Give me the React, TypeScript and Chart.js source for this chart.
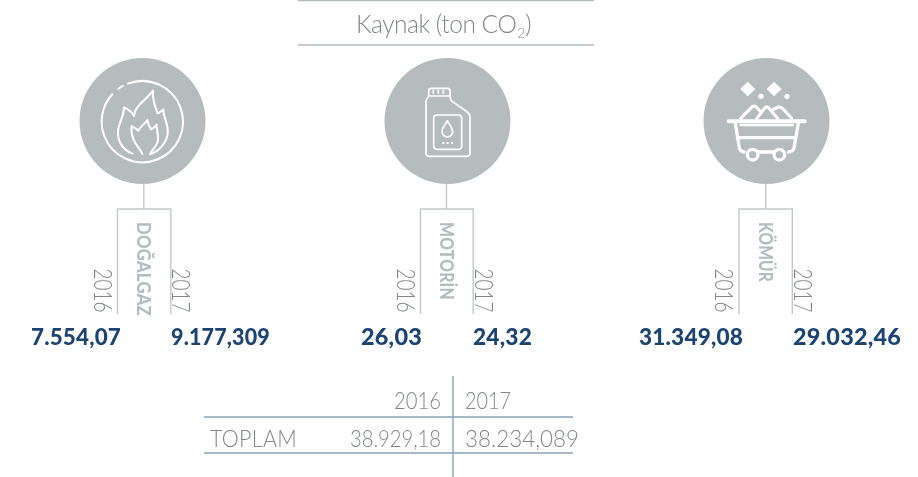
import React, { useEffect, useRef } from "react";
import { Chart, registerables } from "chart.js";

Chart.register(...registerables);

// ---------- data ----------
const sources = ["DOĞALGAZ", "MOTORİN", "KÖMÜR"];
const values2016 = ["7.554,07", "26,03", "31.349,08"];
const values2017 = ["9.177,309", "24,32", "29.032,46"];
const years = ["2016", "2017"];
const totalLabel = "TOPLAM";
const totals = ["38.929,18", "38.234,089"];
const titleMain = "Kaynak (ton CO";
const titleSub = "2";
const titleEnd = ")";

// ---------- layout (separate from data) ----------
const W = 918;
const H = 477;
const GREY = "#b5bcbd";
const LINE = "#c3c9ca";
const NAVY = "#1b4470";
const TEXT = "#838788";
const BLUE = "#86a3ba";
const CX = [142.5, 447.5, 766.5];
const STEM = [143.8, 446.5, 765.8];
const LEFT = [117.5, 420.5, 739];
const RIGHT = [170.8, 473.2, 792.3];
const CY = 121;
const R = 63;
const V16_RIGHT = [121, 422, 743];
const V17_LEFT = [171, 473, 793];
const V16_W = [90, 61, 104];
const V17_W = [99, 59, 108];
const NAME_W = [94, 78, 60];

type P = { x: number; y: number };
const segs: { pts: P[]; color: string; w: number }[] = [];
const seg = (color: string, w: number, ...c: number[]) => {
  const pts: P[] = [];
  for (let i = 0; i < c.length; i += 2) pts.push({ x: c[i], y: c[i + 1] });
  segs.push({ pts, color, w });
};
sources.forEach((_, i) => {
  seg(LINE, 1.4, STEM[i], CY + R, STEM[i], 209);
  seg(LINE, 1.4, LEFT[i], 314, LEFT[i], 209, RIGHT[i], 209, RIGHT[i], 314);
});
seg(GREY, 1.3, 298, 0.6, 594, 0.6);
seg(GREY, 1.3, 298, 45, 594, 45);
seg(BLUE, 1.4, 204, 417, 573, 417);
seg(BLUE, 1.4, 204, 453, 573, 453);
seg(BLUE, 1.4, 453, 376, 453, 477);

function drawIcons(ctx: CanvasRenderingContext2D, chart: any) {
  const sx = chart.scales.x;
  const sy = chart.scales.y;
  const z = (ox: number, oy: number, draw: () => void) => {
    ctx.save();
    ctx.translate(sx.getPixelForValue(ox), sy.getPixelForValue(oy));
    ctx.scale(1 / 3, 1 / 3);
    ctx.strokeStyle = "#fff";
    ctx.fillStyle = "#fff";
    ctx.lineCap = "round";
    ctx.lineJoin = "round";
    draw();
    ctx.restore();
  };
  // flame
  z(60, 60, () => {
    ctx.lineWidth = 6;
    ctx.beginPath();
    ctx.arc(247, 185, 122, -1.93, 3.88);
    ctx.stroke();
    ctx.beginPath();
    ctx.arc(247, 185, 122, -2.2, -2.07);
    ctx.stroke();
    ctx.lineWidth = 6;
    ctx.stroke(new Path2D("M218 281 C190 272 172 245 174 212 C176 190 192 170 192 142 C205 148 216 155 222 168 C225 135 255 125 279 92 C276 120 285 140 293 160 C298 158 304 154 310 148 C310 165 318 180 322 200 C330 235 305 270 272 282"));
    ctx.stroke(new Path2D("M247 282 C240 262 210 245 215 198 C222 202 228 206 235 212 C240 200 252 195 262 180 C264 192 268 200 273 208 C280 205 286 200 290 194 C290 215 298 230 292 248 C288 262 275 270 270 282"));
  });
  // canister
  z(350, 60, () => {
    ctx.lineWidth = 5;
    ctx.stroke(new Path2D("M236 108 L236 92 Q236 85 244 85 L292 85 Q300 85 300 92 L300 108 Z"));
    ctx.stroke(new Path2D("M250 90 L250 100 M265 90 L265 100 M280 90 L280 100"));
    ctx.stroke(new Path2D("M236 108 L228 122 L228 280 Q228 289 238 289 L350 289 Q360 289 360 280 L360 170 Q360 162 352 156 L312 128 Q305 124 302 118 L300 108"));
    ctx.stroke(new Path2D("M262 165 L325 165 Q335 165 335 175 L335 258 Q335 268 325 268 L262 268 Q251 268 251 258 L251 175 Q251 165 262 165 Z"));
    ctx.stroke(new Path2D("M292 182 C298 195 308 203 308 215 A16 16 0 0 1 276 215 C276 203 286 195 292 182 Z"));
    [280, 293, 306].forEach((x) => ctx.fillRect(x - 3, 246, 6, 6));
  });
  // cart
  z(630, 60, () => {
    ctx.lineWidth = 12;
    ctx.stroke(new Path2D("M296 184 L524 184"));
    ctx.lineWidth = 8;
    ctx.stroke(new Path2D("M332 195 L488 195"));
    ctx.lineWidth = 10;
    ctx.stroke(new Path2D("M316 190 L328 264 Q330 274 342 276 M505 190 L492 264 Q490 274 476 276 M385 276 L430 276 M330 233 L490 233"));
    ctx.beginPath();
    ctx.arc(368, 284, 16, 0, Math.PI * 2);
    ctx.stroke();
    ctx.beginPath();
    ctx.arc(448, 284, 16, 0, Math.PI * 2);
    ctx.stroke();
    ctx.lineWidth = 9;
    ctx.stroke(new Path2D("M332 175 L367 140 Q372 136 378 140 L392 155 M380 176 L404 144 Q410 136 416 144 L444 176 M425 150 L446 141 Q454 140 460 148 L485 175"));
    ctx.fill(new Path2D("M353 65 L376 87 L353 109 L331 87 Z"));
    ctx.fill(new Path2D("M432 65 L455 87 L432 109 L410 87 Z"));
    ctx.beginPath();
    ctx.arc(393, 109, 8, 0, Math.PI * 2);
    ctx.fill();
    ctx.beginPath();
    ctx.arc(471, 109, 8, 0, Math.PI * 2);
    ctx.fill();
  });
}

function drawTexts(ctx: CanvasRenderingContext2D, chart: any) {
  const sx = chart.scales.x;
  const sy = chart.scales.y;
  const put = (t: string, x: number, y: number, font: string, color: string, align: CanvasTextAlign, spacing = 0, rot = false, maxW?: number) => {
    ctx.save();
    ctx.font = font;
    ctx.fillStyle = color;
    ctx.textAlign = align;
    ctx.textBaseline = "alphabetic";
    (ctx as any).letterSpacing = spacing + "px";
    ctx.translate(sx.getPixelForValue(x), sy.getPixelForValue(y));
    if (rot) ctx.rotate(Math.PI / 2);
    if (maxW !== undefined) ctx.fillText(t, 0, 0, maxW);
    else ctx.fillText(t, 0, 0);
    ctx.restore();
  };
  const light = "300 23px Lato";
  const bold = "900 23.5px Lato";
  const titleFont = "300 24.5px Lato";
  put(titleMain, 356, 33, titleFont, TEXT, "left", -0.45);
  ctx.save();
  ctx.font = titleFont;
  (ctx as any).letterSpacing = "-0.45px";
  const tw = ctx.measureText(titleMain).width;
  ctx.restore();
  put(titleSub, 356 + tw + 1, 38, "300 14px Lato", TEXT, "left");
  put(titleEnd, 356 + tw + 9, 33, titleFont, TEXT, "left");

  sources.forEach((s, i) => {
    put(s, STEM[i] - 7, 222, "900 18.5px Lato", GREY, "left", 0.3, true, NAME_W[i]);
    put(years[0], LEFT[i] - 24, 268.5, "300 26px Lato", TEXT, "left", 0, true, 44);
    put(years[1], RIGHT[i] + 1.5, 268.5, "300 26px Lato", TEXT, "left", 0, true, 44);
    put(values2016[i], V16_RIGHT[i], 345, bold, NAVY, "right", 0.2, false, V16_W[i]);
    put(values2017[i], V17_LEFT[i], 345, bold, NAVY, "left", 0.2, false, V17_W[i]);
  });

  put(years[0], 441, 409, light, TEXT, "right", 0, false, 47);
  put(years[1], 465, 409, light, TEXT, "left", 0, false, 46);
  put(totalLabel, 210, 447, light, TEXT, "left", 0.3, false, 87);
  put(totals[0], 441, 447, light, TEXT, "right", 0, false, 91);
  put(totals[1], 465, 447, light, TEXT, "left", 0, false, 114);
}

export default function App() {
  const ref = useRef<HTMLCanvasElement>(null);
  useEffect(() => {
    const chart = new Chart(ref.current!, {
      type: "scatter",
      data: {
        datasets: [
          {
            label: "sources",
            data: CX.map((x) => ({ x, y: CY })),
            pointRadius: R,
            pointBackgroundColor: GREY,
            pointBorderWidth: 0,
            clip: false as any,
            order: 1,
          },
          ...segs.map((s, i) => ({
            label: "rule" + i,
            data: s.pts,
            showLine: true,
            borderColor: s.color,
            borderWidth: s.w,
            pointRadius: 0,
            tension: 0,
            clip: false as any,
            order: 2,
          })),
        ],
      },
      options: {
        responsive: false,
        animation: false,
        layout: { padding: 0, autoPadding: false },
        plugins: { legend: { display: false }, tooltip: { enabled: false } },
        scales: {
          x: { type: "linear", min: 0, max: W, display: false },
          y: { type: "linear", min: 0, max: H, reverse: true, display: false },
        },
      },
      plugins: [
        {
          id: "infographic",
          afterDatasetsDraw(c: any) {
            drawIcons(c.ctx, c);
            drawTexts(c.ctx, c);
          },
        },
      ],
    } as any);
    return () => chart.destroy();
  }, []);
  return (
    <canvas
      ref={ref}
      width={W}
      height={H}
      style={{ position: "absolute", left: 0, top: 0, display: "block" }}
    />
  );
}
